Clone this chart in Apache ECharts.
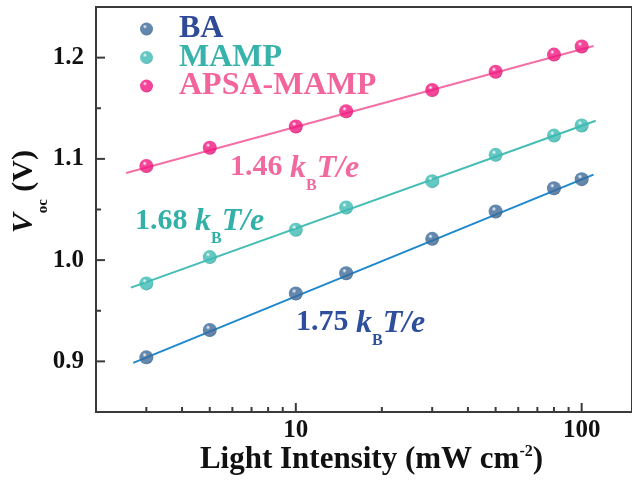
<!DOCTYPE html>
<html>
<head>
<meta charset="utf-8">
<script src="https://cdn.jsdelivr.net/npm/echarts@6/dist/echarts.min.js"></script>
<style>
html,body{margin:0;padding:0;background:#fff;}
#chart{width:632px;height:486px;}
</style>
</head>
<body>
<div id="chart"></div>
<script>
// ---- data ----
const intensity = [3, 5, 10, 15, 30, 50, 80, 100];
const vocBA   = [0.904, 0.931, 0.967, 0.987, 1.021, 1.048, 1.071, 1.080];
const vocMAMP = [0.977, 1.003, 1.030, 1.052, 1.078, 1.104, 1.123, 1.133];
const vocAPSA = [1.093, 1.111, 1.132, 1.147, 1.168, 1.186, 1.203, 1.211];

// fitted-line end points (intensity, Voc)
const fitXBA   = [2.7, 110];   const fitYBA   = [0.8985, 1.0844];
const fitXMAMP = [2.65, 112];  const fitYMAMP = [0.9728, 1.1376];
const fitXAPSA = [2.55, 110];  const fitYAPSA = [1.0861, 1.2115];

// ticks
const xMajorTicks = [10, 100];
const xMinorTicks = [3, 4, 5, 6, 7, 8, 9, 20, 30, 40, 50, 60, 70, 80, 90];
const yMajorTicks = [0.9, 1.0, 1.1, 1.2];
const yMinorTicks = [0.95, 1.05, 1.15];

const seriesNames = ['BA', 'MAMP', 'APSA-MAMP'];
const slopeLabels = ['1.75', '1.68', '1.46'];

const X_MIN = 2, X_MAX = 150, Y_MIN = 0.85, Y_MAX = 1.25;
const FONT = "'Liberation Serif', 'Times New Roman', serif";

function sphere(base, dark) {
  return {
    type: 'radial', x: 0.38, y: 0.32, r: 0.75,
    colorStops: [
      {offset: 0, color: '#ffffff'},
      {offset: 0.22, color: base},
      {offset: 0.75, color: base},
      {offset: 1, color: dark}
    ]
  };
}
const zip = (a, b) => a.map((v, i) => [v, b[i]]);

const tickData = []
  .concat(xMajorTicks.map(v => [v, Y_MIN, 0, 9]))
  .concat(xMinorTicks.map(v => [v, Y_MIN, 0, 5]))
  .concat(yMajorTicks.map(v => [X_MIN, v, 1, 9]))
  .concat(yMinorTicks.map(v => [X_MIN, v, 1, 5]));

// rich text helper: main tokens top-aligned, subscript pushed down
function richStyles(fs, color, subFs, italFs) {
  const iFs = italFs || fs;
  const subL = subFs;
  const subCenter = 0.5 * fs + 0.35 * fs + 13 - 0.35 * subFs;
  return {
    n: {fontFamily: FONT, fontWeight: 'bold', fontSize: fs, lineHeight: fs, fill: color, verticalAlign: 'top'},
    i: {fontFamily: FONT, fontWeight: 'bold', fontStyle: 'italic', fontSize: iFs, lineHeight: fs, fill: color, verticalAlign: 'top'},
    s: {fontFamily: FONT, fontWeight: 'bold', fontSize: subFs, lineHeight: subL, fill: color, verticalAlign: 'top',
        padding: [subCenter - subL / 2, 0, 0, 0]},
    p: {fontFamily: FONT, fontWeight: 'bold', fontSize: 16, lineHeight: 11, fill: color, verticalAlign: 'top'}
  };
}

function slopeText(label, x, y, color) {
  return {
    type: 'text', x: x, y: y, silent: true,
    style: {
      text: '{n|' + label + ' }{i|k}{s|B}{i|T/e}',
      fill: color,
      rich: richStyles(30, color, 16, 32)
    }
  };
}

const chart = echarts.init(document.getElementById('chart'), null, {renderer: 'canvas'});

const option = {
  backgroundColor: '#ffffff',
  animation: false,
  grid: {left: 96, top: 7, right: -5, bottom: 74, show: true, borderColor: '#3a3a3a', borderWidth: 2, backgroundColor: 'transparent'},
  legend: {
    orient: 'vertical', left: 135, top: 8, itemGap: -3.5, itemWidth: 13, itemHeight: 13,
    selectedMode: false,
    data: [
      {name: seriesNames[0], textStyle: {color: '#2e4a98'}},
      {name: seriesNames[1], textStyle: {color: '#38b3ab'}},
      {name: seriesNames[2], textStyle: {color: '#f2649c'}}
    ],
    textStyle: {fontFamily: FONT, fontWeight: 'bold', fontSize: 32, lineHeight: 29, padding: [0, 0, 0, 21]}
  },
  xAxis: {
    type: 'log', logBase: 10, min: X_MIN, max: X_MAX,
    axisLine: {show: false}, axisTick: {show: false}, splitLine: {show: false}, minorTick: {show: false},
    axisLabel: {
      showMinLabel: false, showMaxLabel: false, margin: 6,
      fontFamily: FONT, fontWeight: 'bold', fontSize: 25, color: '#111',
      formatter: function (v) {
        const l = Math.log10(v);
        return Math.abs(l - Math.round(l)) < 1e-6 ? String(Math.round(v)) : '';
      }
    }
  },
  yAxis: {
    type: 'value', min: Y_MIN, max: Y_MAX, interval: 0.05,
    axisLine: {show: false}, axisTick: {show: false}, splitLine: {show: false},
    axisLabel: {
      margin: 12, fontFamily: FONT, fontWeight: 'bold', fontSize: 25, color: '#111',
      formatter: function (v) {
        const t = v * 10;
        return Math.abs(t - Math.round(t)) < 1e-6 ? v.toFixed(1) : '';
      }
    }
  },
  graphic: [
    slopeText(slopeLabels[2], 230, 152.5, '#f2699f'),
    slopeText(slopeLabels[1], 135, 206, '#33b1a9'),
    slopeText(slopeLabels[0], 296, 307.5, '#2e4f9c'),
    {
      type: 'text', x: 371.5, y: 444, silent: true,
      style: {
        text: '{n|Light Intensity (mW cm}{p|-2}{n|)}',
        align: 'center', verticalAlign: 'top', fill: '#111',
        rich: richStyles(31, '#111', 16)
      }
    },
    {
      type: 'text', x: 9.5, y: 191.7, rotation: Math.PI / 2, silent: true,
      style: {
        text: '{i|V}{s|oc}{n| (V)}',
        align: 'center', verticalAlign: 'top', fill: '#111',
        rich: richStyles(30, '#111', 15)
      }
    }
  ],
  series: [
    {name: 'BA fit', type: 'line', data: zip(fitXBA, fitYBA), showSymbol: false, silent: true,
     lineStyle: {color: '#1e88cf', width: 2}, z: 2},
    {name: 'MAMP fit', type: 'line', data: zip(fitXMAMP, fitYMAMP), showSymbol: false, silent: true,
     lineStyle: {color: '#45bdb5', width: 2}, z: 2},
    {name: 'APSA fit', type: 'line', data: zip(fitXAPSA, fitYAPSA), showSymbol: false, silent: true,
     lineStyle: {color: '#f36fa5', width: 2}, z: 2},
    {name: seriesNames[0], type: 'scatter', data: zip(intensity, vocBA), symbolSize: 14, z: 3,
     itemStyle: {color: sphere('#3c6a98', '#23476e')}},
    {name: seriesNames[1], type: 'scatter', data: zip(intensity, vocMAMP), symbolSize: 14, z: 3,
     itemStyle: {color: sphere('#3dbab3', '#268f89')}},
    {name: seriesNames[2], type: 'scatter', data: zip(intensity, vocAPSA), symbolSize: 14, z: 3,
     itemStyle: {color: sphere('#f0187f', '#b8005a')}},
    {
      name: 'ticks', type: 'custom', data: tickData, clip: false, silent: true, z: 5,
      renderItem: function (params, api) {
        const p = api.coord([api.value(0), api.value(1)]);
        const len = api.value(3);
        const horizontal = api.value(2) === 1;
        return {
          type: 'line',
          shape: horizontal
            ? {x1: p[0], y1: p[1], x2: p[0] + len, y2: p[1]}
            : {x1: p[0], y1: p[1], x2: p[0], y2: p[1] - len},
          style: {stroke: '#3a3a3a', lineWidth: 2}
        };
      }
    }
  ]
};
chart.setOption(option);
</script>
</body>
</html>
